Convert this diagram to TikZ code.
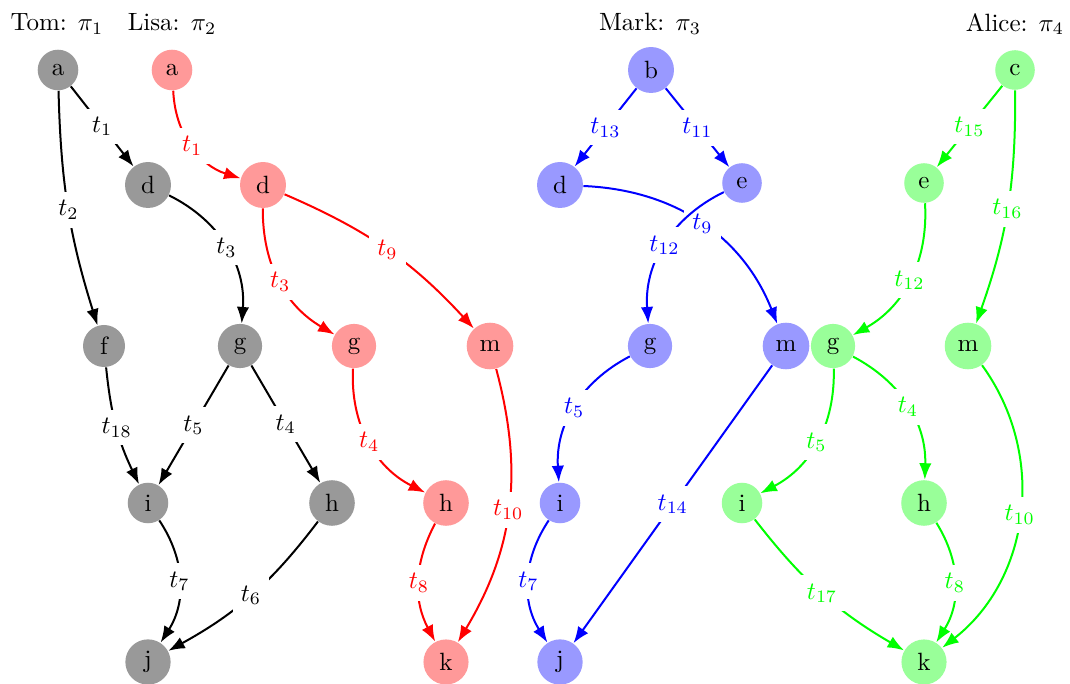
\documentclass[tikz,border=0pt]{standalone}
\usetikzlibrary{arrows.meta}
\begin{document}
\begin{tikzpicture}[x=0.4pt,y=-0.4pt,
  st/.style={circle,fill=#1,inner sep=0.3333em},
  edg/.style={-{Latex},thick},
  lbl/.style={fill=white,midway}]
\useasboundingbox (0,0) rectangle (1070,684);
% titles
\node (tt) at (57,24) {Tom: $\pi_1$};
\node (lt) at (172,24) {Lisa: $\pi_2$};
\node (mt) at (650,24) {Mark: $\pi_3$};
\node (at) at (1015,24) {Alice: $\pi_4$};
% Tom
\node[st=black!40] (ta) at (58,70) {a};
\node[st=black!40] (td) at (148,185) {d};
\node[st=black!40] (tf) at (104,346) {f};
\node[st=black!40] (tg) at (240,346) {g};
\node[st=black!40] (ti) at (148,503) {i};
\node[st=black!40] (th) at (332,503) {h};
\node[st=black!40] (tj) at (148,662) {j};
% Lisa
\node[st=red!40] (la) at (172,70) {a};
\node[st=red!40] (ld) at (263,185) {d};
\node[st=red!40] (lg) at (354,346) {g};
\node[st=red!40] (lm) at (490,346) {m};
\node[st=red!40] (lh) at (446,503) {h};
\node[st=red!40] (lk) at (446,662) {k};
% Mark
\node[st=blue!40] (mb) at (651,70) {b};
\node[st=blue!40] (md) at (560,185) {d};
\node[st=blue!40] (me) at (742,183) {e};
\node[st=blue!40] (mg) at (650,346) {g};
\node[st=blue!40] (mm) at (786,346) {m};
\node[st=blue!40] (mi) at (560,503) {i};
\node[st=blue!40] (mj) at (560,662) {j};
% Alice
\node[st=green!40] (ac) at (1015,70) {c};
\node[st=green!40] (ae) at (924,183) {e};
\node[st=green!40] (ag) at (833,346) {g};
\node[st=green!40] (am) at (968,346) {m};
\node[st=green!40] (ai) at (742,503) {i};
\node[st=green!40] (ah) at (924,503) {h};
\node[st=green!40] (ak) at (924,662) {k};
% Tom edges
\draw[edg] (ta) -- node[lbl] {$t_1$} (td);
\draw[edg] (ta) to[bend right=8] node[lbl] {$t_2$} (tf);
\draw[edg] (td) to[bend left=34] node[lbl] {$t_3$} (tg);
\draw[edg] (tg) -- node[lbl] {$t_5$} (ti);
\draw[edg] (tg) -- node[lbl] {$t_4$} (th);
\draw[edg] (tf) to[bend right=10] node[lbl] {$t_{18}$} (ti);
\draw[edg] (ti) to[bend left=33] node[lbl] {$t_7$} (tj);
\draw[edg] (th) to[bend left=12] node[lbl] {$t_6$} (tj);
% Lisa edges
\begin{scope}[red]
\draw[edg] (la) to[bend right=35] node[lbl] {$t_1$} (ld);
\draw[edg] (ld) to[bend right=30] node[lbl] {$t_3$} (lg);
\draw[edg] (ld) to[bend left=12] node[lbl] {$t_9$} (lm);
\draw[edg] (lg) to[bend right=33] node[lbl] {$t_4$} (lh);
\draw[edg] (lm) to[bend left=23] node[lbl] {$t_{10}$} (lk);
\draw[edg] (lh) to[bend right=28] node[lbl] {$t_8$} (lk);
\end{scope}
% Mark edges
\begin{scope}[blue]
\draw[edg] (mb) -- node[lbl] {$t_{13}$} (md);
\draw[edg] (mb) -- node[lbl] {$t_{11}$} (me);
\draw[edg] (md) to[bend left=33] node[lbl] {$t_9$} (mm);
\draw[edg] (me) to[bend right=34] node[lbl] {$t_{12}$} (mg);
\draw[edg] (mg) to[bend right=33] node[lbl] {$t_5$} (mi);
\draw[edg] (mm) -- node[lbl] {$t_{14}$} (mj);
\draw[edg] (mi) to[bend right=33] node[lbl] {$t_7$} (mj);
\end{scope}
% Alice edges
\begin{scope}[green]
\draw[edg] (ac) -- node[lbl] {$t_{15}$} (ae);
\draw[edg] (ac) to[bend left=10] node[lbl] {$t_{16}$} (am);
\draw[edg] (ae) to[bend left=32] node[lbl] {$t_{12}$} (ag);
\draw[edg] (ag) to[bend left=32] node[lbl] {$t_5$} (ai);
\draw[edg] (ag) to[bend left=32] node[lbl] {$t_4$} (ah);
\draw[edg] (ai) to[bend right=11] node[lbl] {$t_{17}$} (ak);
\draw[edg] (ah) to[bend left=32] node[lbl] {$t_8$} (ak);
\draw[edg] (am) to[bend left=44] node[lbl] {$t_{10}$} (ak);
\end{scope}
\end{tikzpicture}
\end{document}
